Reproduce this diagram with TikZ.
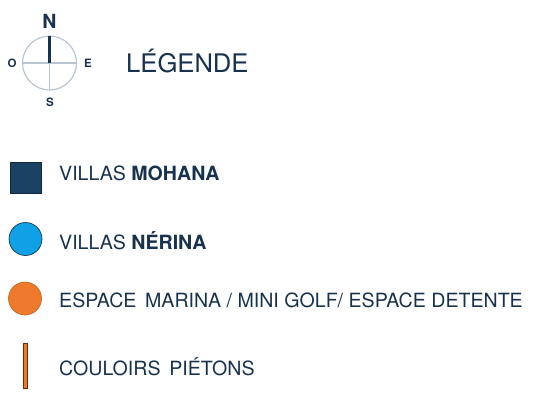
\documentclass[tikz,border=0pt]{standalone}
\usepackage{fontspec}
\setmainfont{TeX Gyre Heros}
\usetikzlibrary{positioning}
\definecolor{navy}{HTML}{17324F}
\definecolor{mohana}{HTML}{1B4263}
\definecolor{nerina}{HTML}{0FA0E6}
\definecolor{marina}{HTML}{EF7A2B}
\definecolor{rose}{HTML}{B9C6D2}
\tikzset{
	legtext/.style={anchor=west,inner sep=0pt,text=navy,font=\fontsize{19.6}{22}\selectfont},
	cardinal/.style={inner sep=0pt,text=navy,font=\bfseries\fontsize{11.5}{12}\selectfont},
	symbol/.style={draw=navy!80!black,line width=.6pt},
}
\begin{document}
\begin{tikzpicture}[x=1pt,y=-1pt]
		\useasboundingbox (0,0) rectangle (540,400);
		% rose des vents
		\draw[rose,line width=1.2pt] (49.5,63) circle (27);
		\draw[rose,line width=1.2pt] (22.5,63) -- (76.5,63) (49.5,63) -- (49.5,90);
		\draw[navy,line width=3pt] (49.5,36) -- (49.5,63);
		\node[cardinal,font=\bfseries\fontsize{19.5}{20}\selectfont] (n) at (49.5,21.5) {N};
		\node[cardinal] (o) at (12,63) {O};
		\node[cardinal] (e) at (88,63) {E};
		\node[cardinal] (s) at (50,102) {S};
		\node[legtext,font=\fontsize{25.6}{28}\selectfont] (titre) at (126,61) {LÉGENDE};
		% symboles
		\node[symbol,fill=mohana,minimum size=31pt,inner sep=0pt] (mohana) at (25.5,177.5) {};
		\node[symbol,fill=nerina,circle,minimum size=33pt,inner sep=0pt] (nerina) at (25.5,239) {};
		\node[symbol,fill=marina,circle,minimum size=33pt,inner sep=0pt,draw=marina!80!black] (marina) at (25,298.5) {};
		\node[symbol,fill=marina,minimum width=4pt,minimum height=45pt,inner sep=0pt,draw=marina!40!black] (couloir) at (25,365.5) {};
		% textes
		\node[legtext] (t1) at (59,173.5) {VILLAS \textbf{MOHANA}};
		\node[legtext] (t2) at (59,241) {VILLAS \textbf{NÉRINA}};
		\node[legtext] (t3) at (59,300) {ESPACE\, MARINA / MINI GOLF/ ESPACE DETENTE};
		\node[legtext] (t4) at (59,367) {COULOIRS\, PIÉTONS};
	\end{tikzpicture}
\end{document}
